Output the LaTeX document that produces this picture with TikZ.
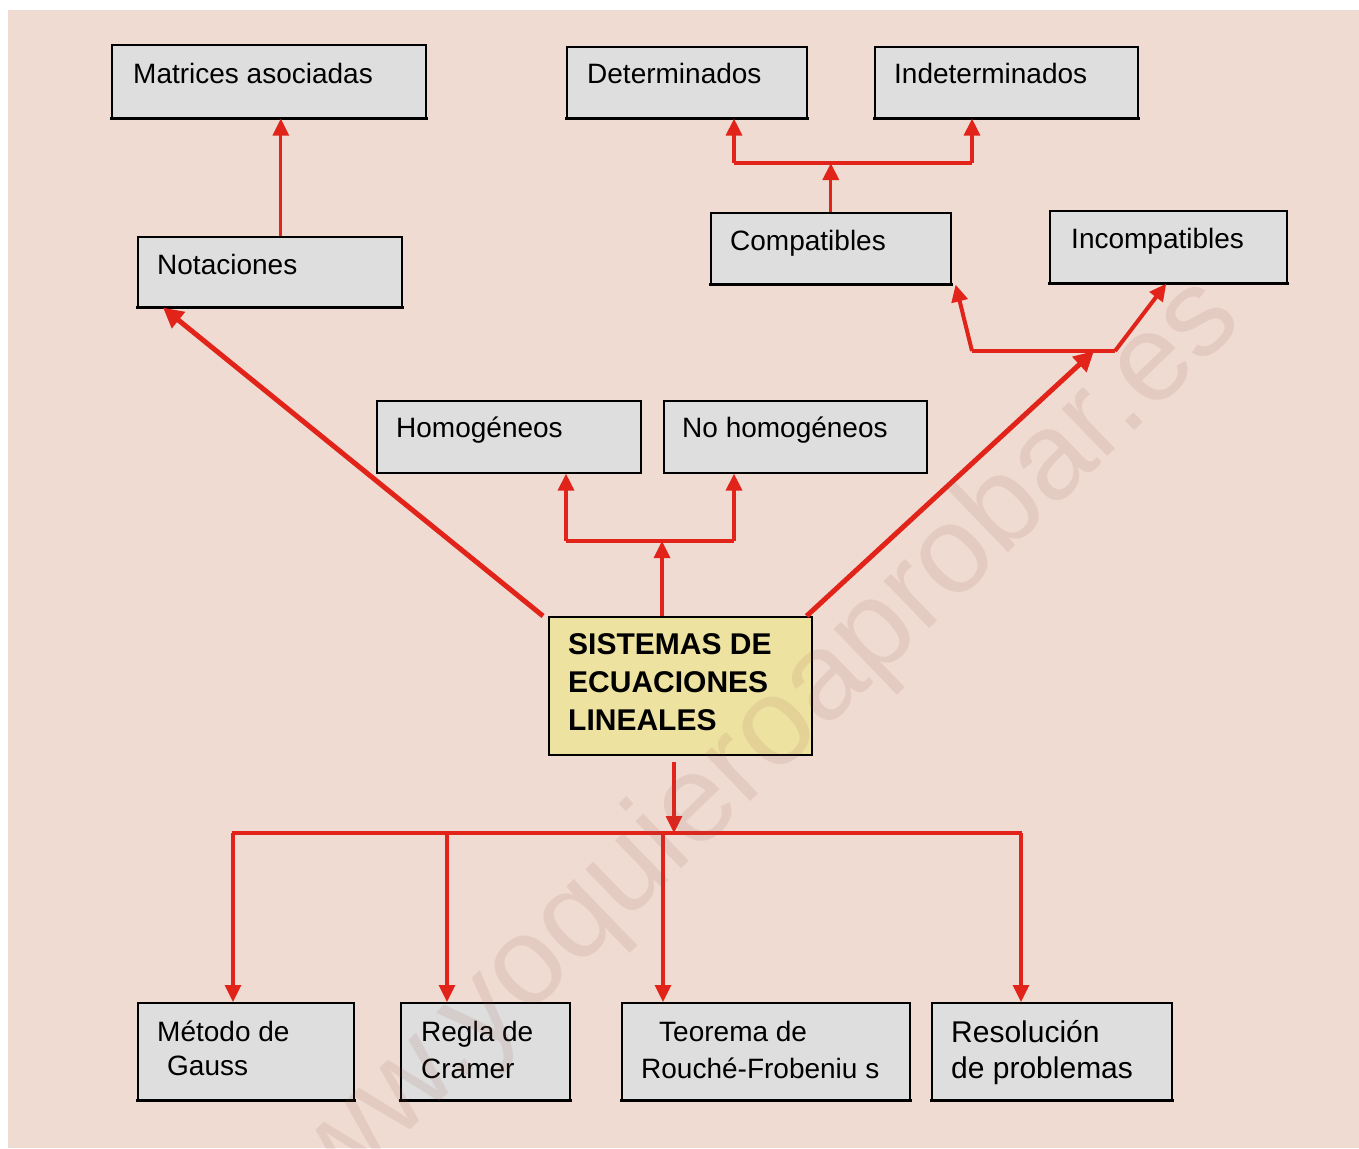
\documentclass[tikz,border=0pt]{standalone}
\usepackage{fontspec}
\setmainfont{Liberation Sans}
\usetikzlibrary{arrows.meta}
\definecolor{bgc}{RGB}{239,219,209}
\definecolor{boxg}{RGB}{222,222,222}
\definecolor{boxy}{RGB}{238,226,160}
\definecolor{lred}{RGB}{226,35,26}
\definecolor{wmc}{RGB}{150,90,80}
\tikzset{
  box/.style={draw=black, line width=1.6pt, fill=boxg, anchor=north west, inner sep=0pt},
  mainbox/.style={box, fill=boxy},
  txt/.style={anchor=base west, inner sep=0pt, font=\fontsize{28}{32}\selectfont},
  bigtxt/.style={txt, font=\fontsize{30}{34}\selectfont},
  ttl/.style={anchor=base west, inner sep=0pt, font=\fontsize{30}{34}\selectfont\bfseries},
  conn/.style={draw=lred, line width=3.2pt},
  arr/.style={conn, -{Triangle[width=16pt,length=17pt]}},
  arrthick/.style={draw=lred, line width=5pt, -{Triangle[width=20pt,length=20pt]}},
}
\newcommand{\shadowline}[1]{\draw[line width=3.4pt] ([xshift=-1pt]#1.south west) -- ([xshift=1pt]#1.south east);}
\begin{document}
\begin{tikzpicture}[x=1pt,y=-1pt]
\useasboundingbox (0,0) rectangle (1359,1148);
\fill[white] (0,0) rectangle (1359,1148);
\fill[bgc] (8,10) rectangle (1359,1148);

% boxes
\node (mat) [box, minimum width=314pt, minimum height=73pt] at (111,44) {};
\node (det) [box, minimum width=240pt, minimum height=71pt] at (566,46) {};
\node (ind) [box, minimum width=263pt, minimum height=71pt] at (874,46) {};
\node (not) [box, minimum width=264pt, minimum height=70pt] at (137,236) {};
\node (com) [box, minimum width=240pt, minimum height=71pt] at (710,212) {};
\node (inc) [box, minimum width=237pt, minimum height=72pt] at (1049,210) {};
\node (hom) [box, minimum width=264pt, minimum height=72pt] at (376,400) {};
\node (noh) [box, minimum width=263pt, minimum height=72pt] at (663,400) {};
\node (sis) [mainbox, minimum width=263pt, minimum height=138pt] at (548,616) {};
\node (gau) [box, minimum width=216pt, minimum height=97pt] at (137,1002) {};
\node (cra) [box, minimum width=169pt, minimum height=97pt] at (400,1002) {};
\node (teo) [box, minimum width=288pt, minimum height=97pt] at (621,1002) {};
\node (res) [box, minimum width=240pt, minimum height=97pt] at (931,1002) {};
\foreach \b in {mat,det,ind,not,com,inc,gau,cra,teo,res}{\shadowline{\b}}

% texts
\node (tmat) [txt] at (133,83) {Matrices asociadas};
\node (tdet) [txt] at (587,83) {Determinados};
\node (tind) [txt] at (894,83) {Indeterminados};
\node (tnot) [txt] at (157,274) {Notaciones};
\node (tcom) [txt] at (730,250) {Compatibles};
\node (tinc) [txt] at (1071,248) {Incompatibles};
\node (thom) [txt] at (396,437) {Homogéneos};
\node (tnoh) [txt] at (682,437) {No homogéneos};
\node (ts1) [ttl] at (568,654) {SISTEMAS DE};
\node (ts2) [ttl] at (568,692) {ECUACIONES};
\node (ts3) [ttl] at (568,730) {LINEALES};
\node (tg1) [txt] at (157,1041) {Método de};
\node (tg2) [txt] at (167,1075) {Gauss};
\node (tc1) [txt] at (421,1041) {Regla de};
\node (tc2) [txt] at (421,1078) {Cramer};
\node (tt1) [txt] at (659,1041) {Teorema de};
\node (tt2) [txt] at (641,1078) {Rouché-Frobeniu s};
\node (tr1) [bigtxt] at (951,1042) {Resolución};
\node (tr2) [bigtxt] at (951,1078) {de problemas};

% junction coordinates
\coordinate (hL) at (566,541);
\coordinate (hR) at (734,541);
\coordinate (hM) at (662,541);
\coordinate (cL) at (972,351);
\coordinate (cR) at (1115,351);
\coordinate (cM) at (1094,351);
\coordinate (dL) at (734,163);
\coordinate (dR) at (972,163);
\coordinate (bL) at (232,833);
\coordinate (bR) at (1022,833);
\coordinate (bM) at (674,833);
\coordinate (sb) at (674,762);

% connectors
\draw[arr] ([xshift=11pt]not.north) -- ([xshift=11pt]not.north |- mat.south);
\draw[arrthick] ([xshift=-5pt]sis.north west) -- ([xshift=26pt]not.south west);
\draw[arr] (hM |- sis.north) -- (hM);
\draw[conn] (hL) -- (hR);
\draw[arr] (hL) -- (hL |- hom.south);
\draw[arr] (hR) -- (hR |- noh.south);
\draw[arrthick] ([xshift=-6pt]sis.north east) -- (cM);
\draw[conn, line width=4pt] (cL) -- (cR);
\draw[arr, line width=4pt] (cL) -- ([xshift=4pt]com.south east);
\draw[arr, line width=4pt] (cR) -- ([xshift=-2pt]inc.south);
\draw[arr] (com.north) -- (com.north |- dL);
\draw[conn] (dL) -- (dR);
\draw[arr] (dL) -- (dL |- det.south);
\draw[arr] (dR) -- (dR |- ind.south);
\draw[arr] (sb) -- (bM);
\draw[conn] (bL) -- (bR);
\draw[arr] ([xshift=1pt]bL) -- ([xshift=1pt]bL |- gau.north);
\draw[arr] (447,833) -- (447,833 |- cra.north);
\draw[arr] (663,833) -- (663,833 |- teo.north);
\draw[arr] ([xshift=-1pt]bR) -- ([xshift=-1pt]bR |- res.north);

% watermark
\node (wm) [rotate=44, text=wmc, text opacity=0.12, inner sep=0pt,
  font=\fontsize{124}{124}\selectfont] at (735,772) {www.yoquieroaprobar.es};
\end{tikzpicture}
\end{document}
